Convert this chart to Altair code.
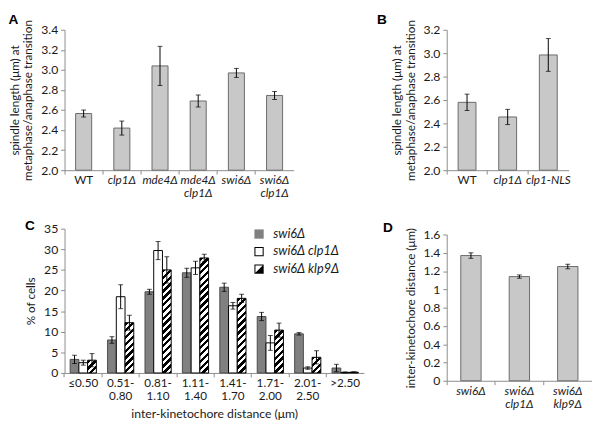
import math
import altair as alt
import pandas as pd

FONT = "Lato"
LETTER_FONT = "Liberation Sans"
TXT = "#1a1a1a"
AXC = "#8c8c8c"

# ---------------- data ----------------
a_strains = ["WT", "clp1Δ", "mde4Δ", "mde4Δ clp1Δ", "swi6Δ", "swi6Δ clp1Δ"]
a_means = [2.565, 2.42, 3.04, 2.69, 2.97, 2.745]
a_errs = [0.035, 0.07, 0.195, 0.06, 0.045, 0.04]
a_ticks = [2.0, 2.2, 2.4, 2.6, 2.8, 3.0, 3.2, 3.4]

b_strains = ["WT", "clp1Δ", "clp1-NLS"]
b_means = [2.58, 2.455, 2.985]
b_errs = [0.07, 0.065, 0.14]
b_ticks = [2.0, 2.2, 2.4, 2.6, 2.8, 3.0, 3.2]

c_bins = ["≤0.50", "0.51-0.80", "0.81-1.10", "1.11-1.40",
          "1.41-1.70", "1.71-2.00", "2.01-2.50", ">2.50"]
c_series = ["swi6Δ", "swi6Δ clp1Δ", "swi6Δ klp9Δ"]
c_swi6 = [3.3, 8.0, 19.7, 24.3, 20.8, 13.7, 9.5, 1.2]
c_swi6_err = [1.0, 0.8, 0.6, 1.1, 1.0, 1.0, 0.3, 0.9]
c_clp1 = [2.5, 18.5, 29.7, 25.5, 16.3, 7.3, 1.2, 0.15]
c_clp1_err = [0.6, 2.9, 2.2, 1.6, 0.8, 1.8, 0.3, 0.1]
c_klp9 = [3.1, 12.2, 25.0, 27.9, 18.1, 10.4, 3.8, 0.2]
c_klp9_err = [1.6, 1.8, 3.2, 0.9, 1.0, 1.7, 1.6, 0.1]
c_ticks = [0, 5, 10, 15, 20, 25, 30, 35]

d_strains = ["swi6Δ", "swi6Δ clp1Δ", "swi6Δ klp9Δ"]
d_means = [1.37, 1.14, 1.25]
d_errs = [0.03, 0.018, 0.025]
d_ticks = [0, 0.2, 0.4, 0.6, 0.8, 1.0, 1.2, 1.4, 1.6]

# ---------------- helpers ----------------
def letter_title(t, offset, dx=0):
    return alt.TitleParams(t, anchor="start", frame="bounds", font=LETTER_FONT,
                           fontSize=14, fontWeight="bold", color="black",
                           offset=offset, dx=dx)


def yaxis(title, values, fmt):
    return alt.Axis(title=title, values=values, tickCount=len(values), format=fmt,
                    grid=False, labelOverlap=False,
                    domainColor=AXC, tickColor=AXC, tickSize=4,
                    labelFont=FONT, labelFontSize=12.5, labelColor=TXT,
                    labelPadding=3, titleFont=FONT, titleFontSize=12,
                    titleFontWeight="normal", titleColor=TXT,
                    titleLineHeight=14, titlePadding=6)


def xaxis(italic_cond, expr, title=None):
    kw = {}
    if title:
        kw = dict(titleFont=FONT, titleFontSize=12.5, titleFontWeight="normal",
                  titleColor=TXT, titlePadding=6)
    return alt.Axis(title=title, orient="bottom", labelAngle=0, ticks=False,
                    domainColor=AXC, labelFont=FONT, labelFontSize=12,
                    labelColor=TXT, labelPadding=5, labelLineHeight=13.5,
                    labelExpr=expr, labelFontStyle=italic_cond, labelBound=False,
                    labelOverlap=False, **kw)


def tick_axis(pin):
    # category-boundary tick marks (between the bars), no labels
    return alt.Axis(title=None, orient="bottom", labels=False, domain=False,
                    ticks=True, tickColor=AXC, tickSize=4,
                    bandPosition=-(pin / 2) / (1 - pin))


def simple_panel(strains, means, errs, ticks, fmt, ytitle, letter, w, h, pin, italic_cond):
    df = pd.DataFrame({"strain": strains, "mean": means,
                       "lo": [m - e for m, e in zip(means, errs)],
                       "hi": [m + e for m, e in zip(means, errs)]})
    xs = alt.Scale(paddingInner=pin, paddingOuter=pin / 2)
    ys = alt.Scale(domain=[ticks[0], ticks[-1]], zero=False, nice=False)
    base = alt.Chart(df)
    bars = base.mark_bar(fill="#c8c8c8", stroke="#6a6a6a", strokeWidth=1).encode(
        x=alt.X("strain:N", sort=strains, scale=xs,
                axis=xaxis(italic_cond, "split(datum.label, ' ')")),
        y=alt.Y("mean:Q", scale=ys, axis=yaxis(ytitle, ticks, fmt)),
        y2=alt.Y2(datum=ticks[0]))
    rule = base.mark_rule(color="black", strokeWidth=1).encode(
        x=alt.X("strain:N", sort=strains, axis=tick_axis(pin)),
        y="lo:Q", y2="hi:Q")
    t_lo = base.mark_tick(color="black", size=5, thickness=1).encode(
        x=alt.X("strain:N", sort=strains, axis=None), y="lo:Q")
    t_hi = base.mark_tick(color="black", size=5, thickness=1).encode(
        x=alt.X("strain:N", sort=strains, axis=None), y="hi:Q")
    return alt.layer(bars, rule, t_lo, t_hi).resolve_axis(x="independent").properties(
        width=w, height=h, title=letter)


wt_cond = {"condition": {"test": "datum.value == 'WT'", "value": "normal"},
           "value": "italic"}
spindle_title = ["spindle length (μm) at", "metaphase/anaphase transition"]

chart_a = simple_panel(a_strains, a_means, a_errs, a_ticks, ".1f", spindle_title,
                       letter_title("A", -8), 235, 144, 0.58, wt_cond)
chart_b = simple_panel(b_strains, b_means, b_errs, b_ticks, ".1f", spindle_title,
                       letter_title("B", -8, dx=-14), 125, 144, 0.56, wt_cond)
chart_d = simple_panel(d_strains, d_means, d_errs, d_ticks, "~g",
                       "inter-kinetochore distance (μm)",
                       letter_title("D", -8, dx=-22), 149, 150, 0.58, "italic")

# ---------------- panel C ----------------
CW, CH = 307, 148
C_PIN = 0.3
rows = []
for i, b in enumerate(c_bins):
    for s, vals, errs in zip(c_series, [c_swi6, c_clp1, c_klp9],
                             [c_swi6_err, c_clp1_err, c_klp9_err]):
        rows.append({"bin": b, "series": s, "val": vals[i],
                     "lo": max(vals[i] - errs[i], 0), "hi": vals[i] + errs[i]})
dfc = pd.DataFrame(rows)

c_label_expr = ("indexof(datum.label, '-') > 0 ? "
                "[slice(datum.label, 0, indexof(datum.label, '-') + 1), "
                "slice(datum.label, indexof(datum.label, '-') + 1)] : datum.label")
c_xscale = alt.Scale(paddingInner=C_PIN, paddingOuter=C_PIN / 2)
xc = alt.X("bin:N", sort=c_bins, scale=c_xscale,
           axis=xaxis("normal", c_label_expr, "inter-kinetochore distance (μm)"))
xc_ticks = alt.X("bin:N", sort=c_bins, axis=tick_axis(C_PIN))
xc_none = alt.X("bin:N", sort=c_bins, axis=None)
xoff = alt.XOffset("series:N", scale=alt.Scale(domain=c_series, paddingInner=0,
                                                 paddingOuter=0))
yc = alt.Y("val:Q", scale=alt.Scale(domain=[0, 35], nice=False),
           axis=yaxis("% of cells", c_ticks, "d"))

basec = alt.Chart(dfc)
gray_bars = basec.transform_filter(alt.datum.series == c_series[0]).mark_bar(
    fill="#808080", stroke="#4a4a4a", strokeWidth=1).encode(x=xc, xOffset=xoff, y=yc)
white_bars = basec.transform_filter(alt.datum.series == c_series[1]).mark_bar(
    fill="white", stroke="black", strokeWidth=1).encode(
    x=xc_none, xOffset=xoff, y=yc)

# hatched bars: diagonal stripes built as a linear gradient sized to each bar
step = CW / 8
bar_w = step * (1 - C_PIN) / 3
PERIOD = 7.0  # stripe period along x+y (px)
hatch_layers = []
for i, b in enumerate(c_bins):
    v = c_klp9[i]
    bh = max(v / 35 * CH, 0.5)
    tot = bar_w + bh
    k = (bar_w + bh) / (bar_w ** 2 + bh ** 2)
    stops = []
    n = int(math.ceil(tot / PERIOD)) + 1
    for j in range(n):
        a0 = min(j * PERIOD / tot, 1)
        a1 = min((j + 0.5) * PERIOD / tot, 1)
        a2 = min((j + 1) * PERIOD / tot, 1)
        stops += [alt.GradientStop(offset=a0, color="black"),
                  alt.GradientStop(offset=a1, color="black"),
                  alt.GradientStop(offset=a1, color="white"),
                  alt.GradientStop(offset=a2, color="white")]
        if a2 >= 1:
            break
    grad = alt.LinearGradient(gradient="linear", stops=stops,
                              x1=0, y1=0, x2=k * bar_w, y2=k * bh)
    layer = basec.transform_filter(
        (alt.datum.series == c_series[2]) & (alt.datum.bin == b)
    ).mark_bar(fill=grad, stroke="black", strokeWidth=1).encode(
        x=xc_none, xOffset=xoff, y=yc)
    hatch_layers.append(layer)

err_rule = basec.mark_rule(color="black", strokeWidth=1).encode(
    x=xc_ticks, xOffset=xoff, y="lo:Q", y2="hi:Q")
err_lo = basec.mark_tick(color="black", size=5, thickness=1).encode(
    x=xc_none, xOffset=xoff, y="lo:Q")
err_hi = basec.mark_tick(color="black", size=5, thickness=1).encode(
    x=xc_none, xOffset=xoff, y="hi:Q")

SQ = "M-1,-1H1V1H-1Z"
RING = "M-1,-1H1V1H-1Z M-0.78,-0.78V0.78H0.78V-0.78Z"
HATCH = RING + " M1,-1L1,1L-1,1Z"
legend_kw = dict(title=None, orient="none", legendX=193, legendY=-1,
                 labelFont=FONT, labelFontSize=13, labelFontStyle="italic",
                 labelColor=TXT, symbolSize=90, symbolStrokeWidth=0,
                 rowPadding=4, labelOffset=8, symbolOpacity=1)
legend_layer = basec.transform_filter("false").mark_point(
    filled=True, opacity=1).encode(
    x=xc_none, y=yc,
    color=alt.Color("series:N", scale=alt.Scale(domain=c_series,
                                                range=["#808080", "black", "black"]),
                    legend=alt.Legend(**legend_kw)),
    shape=alt.Shape("series:N", scale=alt.Scale(domain=c_series,
                                                range=[SQ, RING, HATCH]),
                    legend=alt.Legend(**legend_kw)))

chart_c = alt.layer(gray_bars, white_bars, *hatch_layers, err_rule, err_lo, err_hi,
                    legend_layer).resolve_axis(x="independent").properties(
    width=CW, height=CH, title=letter_title("C", -10))

left = alt.vconcat(chart_a, chart_c, spacing=20).resolve_legend(
    color="independent", shape="independent")
right = alt.vconcat(chart_b, chart_d, spacing=36)
chart = alt.hconcat(left, right, spacing=13).resolve_legend(
    color="independent", shape="independent").properties(padding=0).configure_view(
    stroke=None)

chart.save("out.html", embed_options={"renderer": "svg", "actions": False})
